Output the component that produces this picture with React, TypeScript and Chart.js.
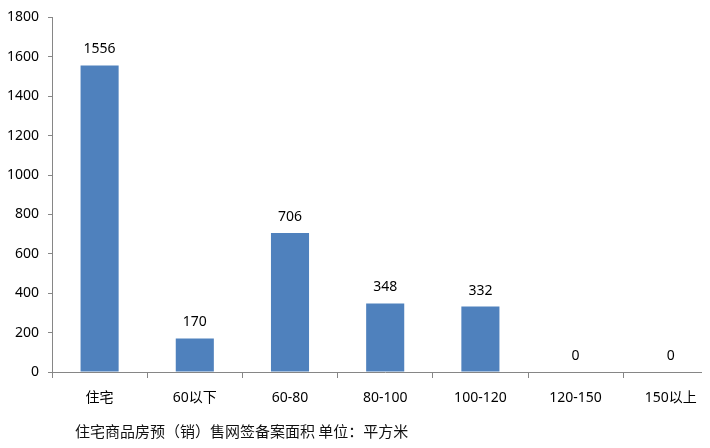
import React, { useEffect, useRef } from "react";
import { Chart, registerables } from "chart.js";

Chart.register(...registerables);

const categories = ["住宅", "60以下", "60-80", "80-100", "100-120", "120-150", "150以上"];
const values = [1556, 170, 706, 348, 332, 0, 0];
const yTicks = [0, 200, 400, 600, 800, 1000, 1200, 1400, 1600, 1800];
const caption = "住宅商品房预（销）售网签备案面积 单位：平方米";

const FONT = "'Noto Sans', 'Noto Sans CJK SC', sans-serif";
const CJK = "'Noto Sans CJK SC', sans-serif";

export default function App() {
  const ref = useRef<HTMLCanvasElement | null>(null);

  useEffect(() => {
    if (!ref.current) return;
    const labelPlugin = {
      id: "labels",
      afterDatasetsDraw(chart: any) {
        const ctx = chart.ctx;
        const meta = chart.getDatasetMeta(0);
        ctx.save();
        ctx.font = `14px ${FONT}`;
        ctx.fillStyle = "#000";
        ctx.textAlign = "center";
        ctx.textBaseline = "middle";
        meta.data.forEach((bar: any, i: number) => {
          ctx.fillText(String(values[i]), bar.x, bar.y - 16);
        });
        ctx.font = `15px ${CJK}`;
        ctx.textAlign = "left";
        ctx.fillStyle = "#111";
        ctx.fillText(caption, 75, 431);
        ctx.restore();
      },
    };
    const chart = new Chart(ref.current, {
      type: "bar",
      data: {
        labels: categories,
        datasets: [
          {
            data: values,
            backgroundColor: "#4F81BD",
            categoryPercentage: 1,
            barPercentage: 0.4,
          },
        ],
      },
      options: {
        animation: false,
        responsive: false,
        maintainAspectRatio: false,
        layout: { padding: { top: 14, right: 11.6, left: 0, bottom: 0 } },
        plugins: { legend: { display: false }, tooltip: { enabled: false } },
        scales: {
          x: {
            offset: true,
            grid: {
              offset: true,
              drawOnChartArea: false,
              tickLength: 6,
              color: "#868686",
            },
            border: { color: "#868686" },
            ticks: { padding: 12, color: "#000", font: { family: FONT, size: 14 } },
            afterFit(scale: any) {
              scale.height = 76;
            },
          },
          y: {
            min: 0,
            max: 1800,
            afterBuildTicks(scale: any) {
              scale.ticks = yTicks.map((v) => ({ value: v }));
            },
            grid: { drawOnChartArea: false, tickLength: 4, color: "#868686" },
            border: { color: "#868686" },
            ticks: {
              padding: 9,
              color: "#000",
              font: { family: FONT, size: 14 },
              callback: (v: any) => String(v),
            },
            afterFit(scale: any) {
              scale.width = 52;
            },
          },
        },
      },
      plugins: [labelPlugin],
    });
    return () => chart.destroy();
  }, []);

  return (
    <div style={{ margin: -8, width: 710, height: 448, overflow: "hidden", background: "#fff" }}>
      <canvas ref={ref} width={730} height={448} style={{ display: "block" }} />
    </div>
  );
}
